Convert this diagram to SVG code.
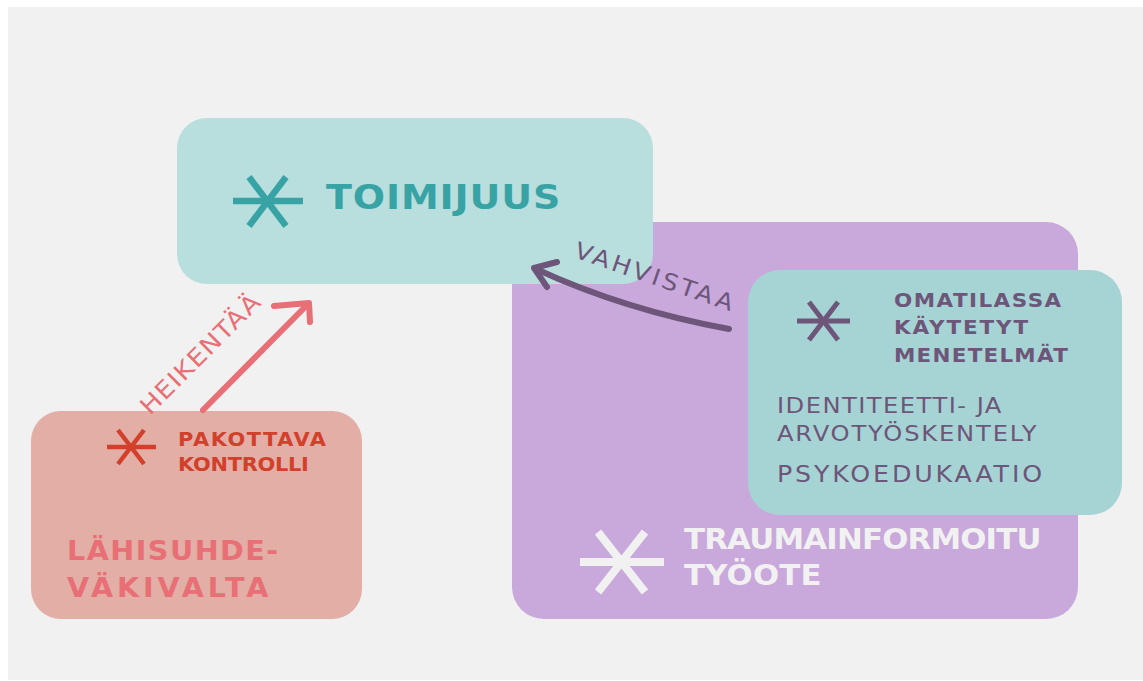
<svg xmlns="http://www.w3.org/2000/svg" width="1143" height="681" viewBox="0 0 1143 681">
<style>
.b{font-family:"DejaVu Sans","Liberation Sans",Arial,sans-serif;font-weight:bold}
.r{font-family:"DejaVu Sans","Liberation Sans",Arial,sans-serif;font-weight:normal}
.ast{fill:none;stroke-linecap:butt}
.conn{fill:none;stroke-linecap:round;stroke-linejoin:round}
</style>
<rect x="0" y="0" width="1143" height="681" fill="#ffffff"/>
<rect x="8" y="7" width="1135" height="673" fill="#f0f1f0"/>

<g id="trauma">
<rect x="512" y="222" width="566" height="397" rx="32" fill="#c9a8dc"/>
<g class="ast" stroke="#f1f1f1" stroke-width="8">
<line x1="580" y1="562" x2="664" y2="562"/>
<line x1="598" y1="532" x2="645" y2="592"/>
<line x1="645" y1="532" x2="598" y2="592"/>
</g>
<text class="b" transform="translate(684 549) scale(1.1 1)" font-size="28" fill="#f1f1f1" textLength="325" lengthAdjust="spacing">TRAUMAINFORMOITU</text>
<text class="b" transform="translate(684 585) scale(1.1 1)" font-size="28" fill="#f1f1f1" textLength="125" lengthAdjust="spacing">TYÖOTE</text>
</g>

<g id="toimijuus">
<rect x="177" y="118" width="476" height="166" rx="30" fill="#b9dede"/>
<g class="ast" stroke="#38a3a4" stroke-width="6.5">
<line x1="233" y1="201" x2="303" y2="201"/>
<line x1="249" y1="177" x2="286" y2="226"/>
<line x1="286" y1="177" x2="249" y2="226"/>
</g>
<text class="b" transform="translate(326 209) scale(1.1 1)" font-size="34.5" fill="#38a3a4" textLength="213" lengthAdjust="spacing">TOIMIJUUS</text>
</g>

<g id="menetelmat">
<rect x="748" y="270" width="374" height="245" rx="32" fill="#a6d4d5"/>
<g class="ast" stroke="#6d5679" stroke-width="5">
<line x1="797" y1="321" x2="850" y2="321"/>
<line x1="809" y1="302" x2="838" y2="340"/>
<line x1="838" y1="302" x2="809" y2="340"/>
</g>
<text class="b" transform="translate(894 307) scale(1.1 1)" font-size="19.5" fill="#6d5679" textLength="152" lengthAdjust="spacing">OMATILASSA</text>
<text class="b" transform="translate(894 334) scale(1.1 1)" font-size="19.5" fill="#6d5679" textLength="122" lengthAdjust="spacing">KÄYTETYT</text>
<text class="b" transform="translate(894 362) scale(1.1 1)" font-size="19.5" fill="#6d5679" textLength="158" lengthAdjust="spacing">MENETELMÄT</text>
<text class="r" transform="translate(777 413) scale(1.1 1)" font-size="22" fill="#6d5679" textLength="204" lengthAdjust="spacing">IDENTITEETTI- JA</text>
<text class="r" transform="translate(777 441) scale(1.1 1)" font-size="22" fill="#6d5679" textLength="236" lengthAdjust="spacing">ARVOTYÖSKENTELY</text>
<text class="r" transform="translate(777 482) scale(1.1 1)" font-size="23" fill="#6d5679" textLength="241" lengthAdjust="spacing">PSYKOEDUKAATIO</text>
</g>

<g id="lahisuhdevakivalta">
<rect x="31" y="411" width="331" height="208" rx="30" fill="#e2aea6"/>
<g class="ast" stroke="#d2402b" stroke-width="4.5">
<line x1="107" y1="447" x2="156" y2="447"/>
<line x1="118" y1="430" x2="144" y2="464"/>
<line x1="144" y1="430" x2="118" y2="464"/>
</g>
<text class="b" transform="translate(178 446) scale(1.1 1)" font-size="19" fill="#d2402b" textLength="134.5" lengthAdjust="spacing">PAKOTTAVA</text>
<text class="b" transform="translate(178 471) scale(1.1 1)" font-size="19" fill="#d2402b" textLength="119" lengthAdjust="spacing">KONTROLLI</text>
<text class="b" transform="translate(67 560) scale(1.1 1)" font-size="26" fill="#e86f75" textLength="192" lengthAdjust="spacing">LÄHISUHDE-</text>
<text class="b" transform="translate(67 597) scale(1.1 1)" font-size="26" fill="#e86f75" textLength="183" lengthAdjust="spacing">VÄKIVALTA</text>
</g>

<g id="connectors">
<g id="heikentaa">
<line class="conn" x1="203" y1="410" x2="307" y2="305" stroke="#e86f75" stroke-width="6"/>
<polyline class="conn" points="274,306 309,303 310,322" stroke="#e86f75" stroke-width="6"/>
<text class="r" transform="translate(150 416) rotate(-45) scale(1.1 1)" font-size="24" fill="#e86f75" textLength="144" lengthAdjust="spacing">HEIKENTÄÄ</text>
</g>
<g id="vahvistaa">
<path class="conn" d="M729 329 Q625 310 536 269" stroke="#6d5679" stroke-width="6"/>
<polyline class="conn" points="557,262 534,268 547,287" stroke="#6d5679" stroke-width="6"/>
<text class="r" transform="translate(573 257) rotate(19) scale(1.1 1)" font-size="23" fill="#6d5679" textLength="151" lengthAdjust="spacing">VAHVISTAA</text>
</g>
</g>
</svg>
